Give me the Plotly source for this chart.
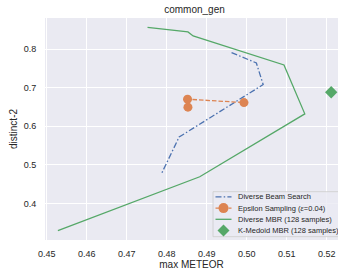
import plotly.graph_objects as go

# ---- data ----
dbs_x = [0.4962, 0.5024, 0.5041, 0.4831, 0.4787]
dbs_y = [0.7914, 0.7644, 0.7083, 0.5722, 0.4772]

eps_x = [0.4853, 0.4852, 0.4993]
eps_y = [0.6496, 0.6704, 0.6616]

dmbr_x = [0.4752, 0.4853, 0.4866, 0.5093, 0.5145, 0.48825, 0.4528]
dmbr_y = [0.857, 0.8449, 0.8345, 0.7593, 0.6323, 0.469, 0.329]

kmed_x = [0.5211]
kmed_y = [0.6885]

names = ["Diverse Beam Search", "Epsilon Sampling (<i>ε</i>=0.04)",
         "Diverse MBR (128 samples)", "K-Medoid MBR (128 samples)"]
x_ticks = [0.45, 0.46, 0.47, 0.48, 0.49, 0.50, 0.51, 0.52]
y_ticks = [0.4, 0.5, 0.6, 0.7, 0.8]

BLUE, ORANGE, GREEN = "#4c72b0", "#dd8452", "#55a868"
TXT = "#262626"
FONT = "Liberation Sans, Arial, sans-serif"

W, H = 338, 271
ML, MR, MT, MB = 45, 0, 18, 31

fig = go.Figure()
fig.add_trace(go.Scatter(x=dbs_x, y=dbs_y, mode="lines", name=names[0],
                         line=dict(color=BLUE, width=1.3, dash="6px,2.2px,1.5px,2.2px")))
fig.add_trace(go.Scatter(x=eps_x, y=eps_y, mode="lines+markers", name=names[1],
                         line=dict(color=ORANGE, width=1.3, dash="4.5px,2px"),
                         marker=dict(color=ORANGE, size=9, symbol="circle", line=dict(width=0))))
fig.add_trace(go.Scatter(x=dmbr_x, y=dmbr_y, mode="lines", name=names[2],
                         line=dict(color=GREEN, width=1.3)))
fig.add_trace(go.Scatter(x=kmed_x, y=kmed_y, mode="markers", name=names[3],
                         marker=dict(color=GREEN, size=9.5, symbol="diamond", line=dict(width=0))))

# ---- manual compact legend (matplotlib-like) ----
pw, ph = W - ML - MR, H - MT - MB
def px_x(p):
    return (p - ML) / pw
def px_y(p):
    return (H - MB - p) / ph

shapes = []
annotations = []
leg_left, leg_top, leg_bot = 213, 191.7, 236.7
shapes.append(dict(type="rect", xref="paper", yref="paper",
                   x0=px_x(leg_left), x1=px_x(W + 10), y0=px_y(leg_bot), y1=px_y(leg_top),
                   fillcolor="rgba(234,234,242,0.8)", line=dict(color="#cccccc", width=0.8),
                   layer="above"))
row_y = [196.9, 208.1, 219.3, 230.5]
key_x0, key_x1, txt_x = 215.5, 231.5, 236.7
key_mid = (key_x0 + key_x1) / 2
styles = [
    dict(color=BLUE, dash="6px,2.2px,1.5px,2.2px", line=True, marker=None),
    dict(color=ORANGE, dash="4.5px,2px", line=True, marker="circle"),
    dict(color=GREEN, dash="solid", line=True, marker=None),
    dict(color=GREEN, dash="solid", line=False, marker="diamond"),
]
for nm, yy, st in zip(names, row_y, styles):
    if st["line"]:
        shapes.append(dict(type="line", xref="paper", yref="paper",
                           x0=px_x(key_x0), x1=px_x(key_x1), y0=px_y(yy), y1=px_y(yy),
                           line=dict(color=st["color"], width=1.3, dash=st["dash"]),
                           layer="above"))
    if st["marker"] == "circle":
        shapes.append(dict(type="circle", xref="paper", yref="paper",
                           xsizemode="pixel", ysizemode="pixel",
                           xanchor=px_x(key_mid), yanchor=px_y(yy),
                           x0=-5, x1=5, y0=-5, y1=5,
                           fillcolor=st["color"], line=dict(width=0), layer="above"))
    if st["marker"] == "diamond":
        shapes.append(dict(type="path", xref="paper", yref="paper",
                           xsizemode="pixel", ysizemode="pixel",
                           xanchor=px_x(key_mid), yanchor=px_y(yy),
                           path="M 0 6 L 6 0 L 0 -6 L -6 0 Z",
                           fillcolor=st["color"], line=dict(width=0), layer="above"))
    annotations.append(dict(text=nm, xref="paper", yref="paper", x=px_x(txt_x), y=px_y(yy),
                            xanchor="left", yanchor="middle", showarrow=False, borderpad=0,
                            font=dict(family=FONT, size=7.5, color=TXT)))

fig.update_layout(
    width=W, height=H,
    margin=dict(l=ML, r=MR, t=MT, b=MB, pad=0),
    paper_bgcolor="white", plot_bgcolor="#eaeaf2",
    font=dict(family=FONT, size=9, color=TXT),
    showlegend=False, hovermode=False,
    title=dict(text="common_gen", xref="container", yref="container",
               x=194.5 / W, y=1 - 9.3 / H, xanchor="center", yanchor="middle",
               font=dict(family=FONT, size=10, color=TXT)),
    shapes=shapes, annotations=annotations,
)
fig.update_xaxes(range=[0.44958, 0.5228], tickvals=x_ticks, tickformat=".2f",
                 showgrid=True, gridcolor="white", gridwidth=1, zeroline=False,
                 showline=False, ticks="outside", ticklen=5, tickcolor="rgba(0,0,0,0)",
                 tickfont=dict(size=9, color=TXT), automargin=False,
                 title=dict(text="max METEOR", font=dict(size=10, color=TXT), standoff=3))
fig.update_yaxes(range=[0.3049, 0.8811], tickvals=y_ticks, tickformat=".1f",
                 showgrid=True, gridcolor="white", gridwidth=1, zeroline=False,
                 showline=False, ticks="outside", ticklen=6, tickcolor="rgba(0,0,0,0)",
                 tickfont=dict(size=9, color=TXT), automargin=False,
                 title=dict(text="distinct-2", font=dict(size=10, color=TXT), standoff=4))

fig.write_html("out.html", config={"displayModeBar": False, "staticPlot": True},
               post_script="document.body.style.margin='0';document.body.style.overflow='hidden';")
